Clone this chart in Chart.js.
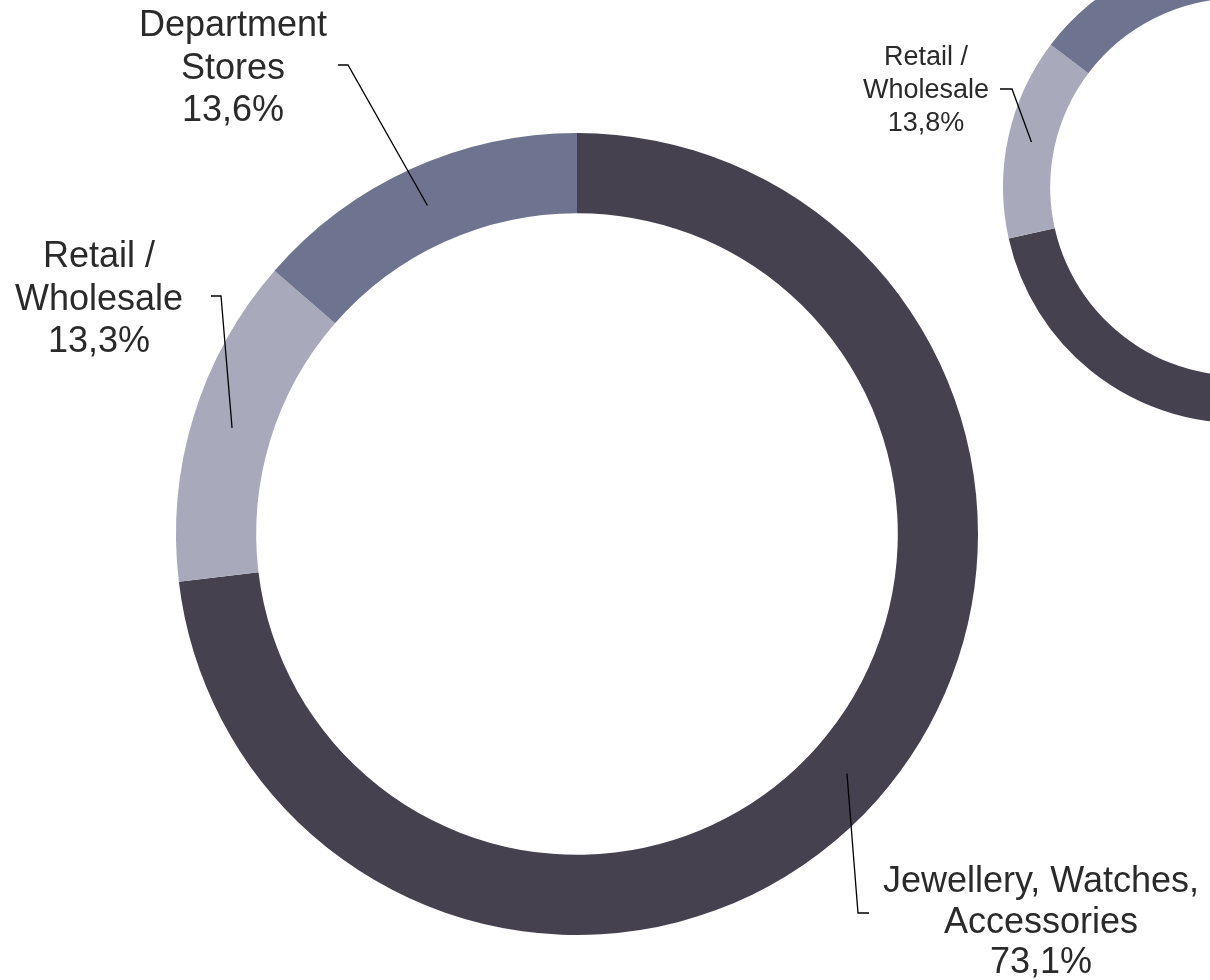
<!DOCTYPE html>
<html>
<head>
<meta charset="utf-8">
<script src="https://cdn.jsdelivr.net/npm/chart.js@4.4.1/dist/chart.umd.min.js"></script>
<style>
  html, body { margin: 0; padding: 0; background: #fff; overflow: hidden; }
  body { width: 1210px; height: 980px; position: relative; }
  .wrap { position: absolute; }
  #mainWrap { left: 0; top: 0; width: 1210px; height: 980px; }
  #sideWrap { left: 800px; top: -49px; width: 675px; height: 472px; }
</style>
</head>
<body>
<div class="wrap" id="mainWrap"><canvas id="mainChart"></canvas></div>
<div class="wrap" id="sideWrap"><canvas id="sideChart"></canvas></div>
<script>
// Segment data (shares in %)
const categories = ['Jewellery, Watches, Accessories', 'Retail / Wholesale', 'Department Stores'];
const labelLines = [['Jewellery, Watches,', 'Accessories'], ['Retail /', 'Wholesale'], ['Department', 'Stores']];
const mainShares = [73.1, 13.3, 13.6];
const sideShares = [71.5, 13.8, 14.7];
const segmentColors = ['#45414f', '#a8aabb', '#6e738f'];

const FONT = "'Liberation Sans', Arial, sans-serif";

function formatShare(v) {
  return v.toFixed(1).replace('.', ',') + '%';
}

// Draws leader lines from each segment's middle and the label text next to them
const calloutPlugin = {
  id: 'callouts',
  afterDatasetsDraw(chart, args, opts) {
    const ctx = chart.ctx;
    const meta = chart.getDatasetMeta(0);
    const values = chart.data.datasets[0].data;
    const ox = opts.offsetX || 0;
    const oy = opts.offsetY || 0;

    ctx.save();
    opts.items.forEach(item => {
      const p = meta.data[item.index].getCenterPoint();
      ctx.beginPath();
      ctx.moveTo(p.x, p.y);
      item.path.forEach(pt => ctx.lineTo(pt[0] - ox, pt[1] - oy));
      ctx.strokeStyle = '#000';
      ctx.lineWidth = 1.3;
      ctx.stroke();

      if (item.textX !== undefined) {
        const lines = labelLines[item.index].concat(formatShare(values[item.index]));
        const lh = item.lineHeight || opts.lineHeight;
        ctx.font = opts.fontSize + 'px ' + FONT;
        ctx.fillStyle = '#2a2a2a';
        ctx.textAlign = 'center';
        ctx.textBaseline = 'alphabetic';
        lines.forEach((line, i) => {
          ctx.fillText(line, item.textX - ox, item.textY - oy + i * lh);
        });
      }
    });
    ctx.restore();
  }
};

function makeDoughnut(canvasId, shares, padding, callouts) {
  const ctx = document.getElementById(canvasId).getContext('2d');
  return new Chart(ctx, {
    type: 'doughnut',
    data: {
      labels: categories,
      datasets: [{
        data: shares,
        backgroundColor: segmentColors,
        borderWidth: 0,
        hoverOffset: 0,
      }],
    },
    options: {
      responsive: true,
      maintainAspectRatio: false,
      animation: false,
      cutout: '80%',
      rotation: 0,
      layout: { padding: padding },
      events: [],
      plugins: {
        legend: { display: false },
        tooltip: { enabled: false },
        callouts: callouts,
      },
    },
    plugins: [calloutPlugin],
  });
}

// Main ring
makeDoughnut('mainChart', mainShares,
  { left: 176, top: 133, right: 232, bottom: 45 },
  {
    offsetX: 0,
    offsetY: 0,
    fontSize: 36,
    lineHeight: 42.5,
    items: [
      { index: 2, path: [[348, 65], [338, 65]], textX: 233, textY: 36 },
      { index: 1, path: [[221, 296], [211, 296]], textX: 99, textY: 267 },
      { index: 0, path: [[858, 913], [869, 913]], textX: 1041, textY: 892, lineHeight: 40.5 },
    ],
  });

// Second ring, mostly outside the page at the top right
makeDoughnut('sideChart', sideShares,
  { left: 203, top: 0, right: 0, bottom: 0 },
  {
    offsetX: 800,
    offsetY: -49,
    fontSize: 27,
    lineHeight: 33,
    items: [
      { index: 1, path: [[1012, 89], [1000, 89]], textX: 926, textY: 65 },
      { index: 2, path: [[1146, -30]] },
    ],
  });
</script>
</body>
</html>
